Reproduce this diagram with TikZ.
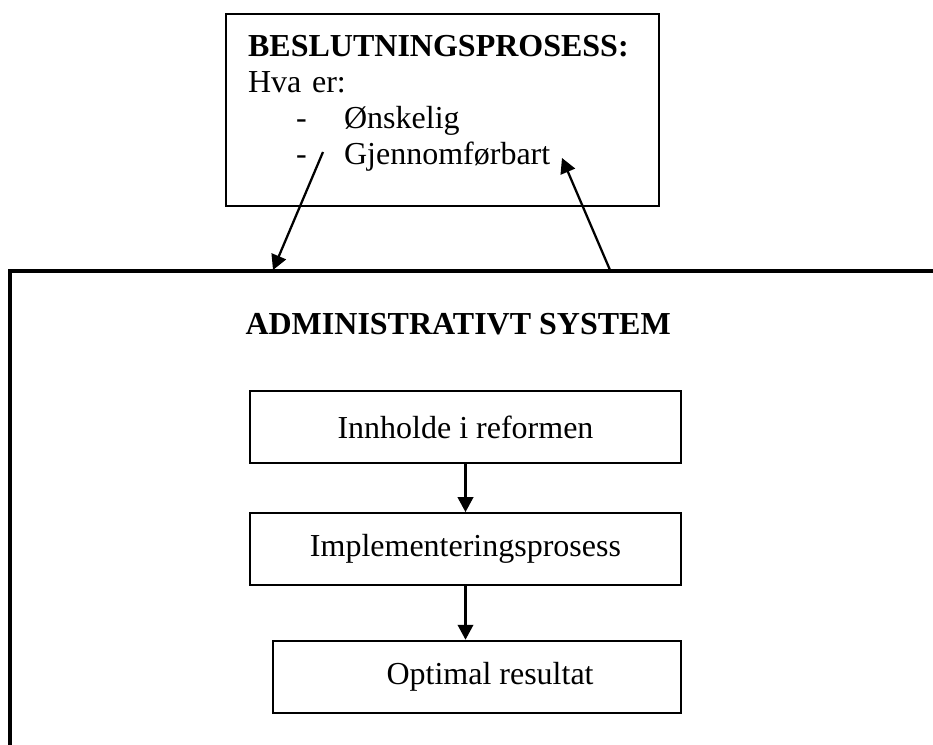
\documentclass[tikz,border=0pt]{standalone}
\usepackage{fontspec}
\setmainfont{Liberation Serif}
\usepackage{tikz}
\usetikzlibrary{arrows.meta,positioning}

\begin{document}
\begin{tikzpicture}[
		x=0.375pt, y=-0.375pt,
		every node/.style={font=\fontsize{12pt}{13.6pt}\selectfont},
		notebox/.style={draw, line width=0.85pt, inner xsep=8.25pt, inner ysep=0pt, text width=145.9pt, align=left, text height=15.75pt, text depth=56.25pt},
		stage/.style={draw, line width=0.85pt, align=center, minimum width=161.6pt, minimum height=27pt, inner sep=0pt},
		arrow/.style={-{Triangle[length=5.6pt, width=5.8pt]}, line width=0.85pt},
		frame/.style={line width=1.25pt}
	]
		\useasboundingbox (0,0) rectangle (933,745);

		\node[notebox, anchor=north west]
			(beslut) at (225,13)
			{\textbf{BESLUTNINGSPROSESS:}\\
			Hva er:\\
			\hspace*{18pt}\makebox[18pt][l]{-}Ønskelig\\
			\hspace*{18pt}\makebox[18pt][l]{-}Gjennomførbart};

		% administrativt system
		\coordinate (sysbottom) at (10,745);
		\coordinate (syscorner) at (10,271);
		\coordinate (sysright) at (933,271);
		\draw[frame] (sysbottom) -- (syscorner) -- (sysright);
		\node[anchor=base west, inner sep=0pt]
			(systitle) at (245,335)
			{\textbf{ADMINISTRATIVT SYSTEM}};

		\node[stage]
			(innhold) at (465.5,427)
			{Innholde i reformen};
		\node[stage, below=18pt of innhold]
			(impl)
			{Implementeringsprosess};
		\node[stage, minimum width=153pt, below=20pt of impl.south east, anchor=north east]
			(optimal)
			{\hspace*{9.8pt}Optimal resultat};

		\coordinate (ned) at (323,152);
		\coordinate (nedtil) at (273,270);
		\coordinate (opp) at (610,270);
		\coordinate (opptil) at (562,158);

		\draw[arrow] (ned) -- (nedtil);
		\draw[arrow] (opp) -- (opptil);
		\draw[arrow] (innhold) -- (impl);
		\draw[arrow] (impl.south) -- (impl.south |- optimal.north);
	\end{tikzpicture}
\end{document}
